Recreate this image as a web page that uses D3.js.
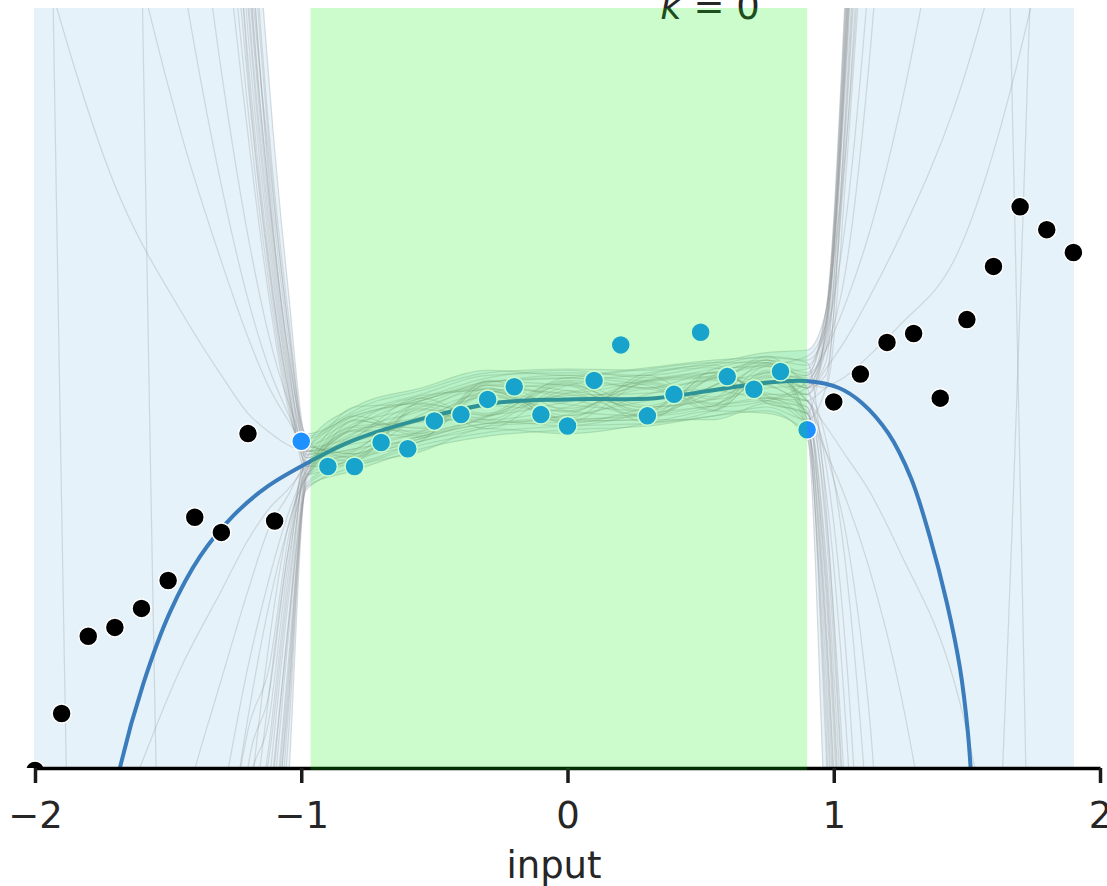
<!DOCTYPE html>
<html>
<head>
<meta charset="utf-8">
<script src="https://cdn.jsdelivr.net/npm/d3@7"></script>
<style>
  body { margin: 0; background: #fff; }
  svg { display: block; font-family: "DejaVu Sans", sans-serif; }
</style>
</head>
<body>
<div id="chart"></div>
<script>
// x positions shared by every ensemble curve
var gridX = [-2.0, -1.7, -1.45, -1.3, -1.2, -1.12, -1.05, -0.98, -0.8, -0.55, -0.3, 0, 0.3, 0.55, 0.75, 0.9, 0.97, 1.05, 1.13, 1.25, 1.45, 1.9];

// ensemble members (grey), values at gridX
var ensemble = [
  [40, 30, 20, 12, 5.0, 2.4, 0.8, -0.40, -0.22, -0.10, 0.05, 0.08, 0.00, 0.08, 0.18, -0.35, -3.6, -8, -14, -22, -35, -60],
  [38, 28, 18, 10, 4.4, 2.0, 0.6, -0.45, -0.52, -0.38, -0.28, -0.22, -0.10, -0.02, -0.08, 0.05, 0.4, 3.0, 6.5, 12, 20, 40],
  [36, 26, 16, 8, 3.8, 1.7, 0.4, -0.50, -0.30, -0.08, 0.00, -0.26, -0.25, 0.10, 0.20, -0.30, -2.6, -7, -12, -20, -32, -55],
  [34, 24, 15, 7, 3.3, 1.4, 0.2, -0.48, -0.58, -0.42, -0.30, 0.02, 0.10, -0.15, -0.10, 0.00, 0.2, 2.8, 6, 11, 19, 38],
  [32, 22, 14, 6.5, 3.0, 1.2, 0.1, -0.55, -0.33, -0.34, 0.06, -0.18, -0.22, 0.15, 0.22, -0.25, -2.0, -6, -10, -17, -28, -50],
  [30, 20, 12, 5.5, 2.6, 1.0, 0.0, -0.52, -0.48, -0.12, -0.22, 0.08, 0.02, -0.18, 0.12, 0.00, 0.1, 2.2, 5, 10, 18, 36],
  [28, 18, 10, 4.5, 2.2, 0.8, -0.1, -0.58, -0.25, -0.38, -0.02, -0.24, 0.12, 0.16, -0.12, -0.20, -1.6, -5, -9, -15, -25, -45],
  [36, 26, 16, 9, 4.0, 1.6, 0.3, -0.42, -0.55, -0.16, -0.32, -0.02, -0.18, 0.02, 0.25, 0.05, 0.0, 1.8, 4.2, 9, 16, 32],
  [-40, -30, -22, -14, -8, -5.5, -3.2, -0.75, -0.56, -0.42, 0.02, -0.04, 0.05, 0.08, -0.12, -0.20, -1.3, -4.2, -8, -14, -24, -45],
  [-38, -28, -20, -12, -7, -4.8, -2.8, -0.70, -0.30, -0.08, -0.25, 0.04, -0.22, -0.14, 0.17, 0.05, 0.5, 3.2, 7, 15, 26, 50],
  [-36, -26, -18, -10, -6, -4.2, -2.4, -0.68, -0.50, -0.34, -0.05, -0.27, 0.06, 0.12, -0.06, -0.15, -1.0, -3.5, -7, -12, -20, -40],
  [-34, -24, -16, -8, -5, -3.6, -2.0, -0.65, -0.22, -0.36, 0.05, 0.02, -0.27, -0.18, 0.14, -0.05, 0.45, 2.6, 6, 13, 22, 44],
  [-32, -22, -14, -7, -4.4, -3.1, -1.7, -0.62, -0.58, -0.14, -0.28, -0.21, 0.10, 0.18, -0.08, -0.10, -0.8, -2.8, -6, -11, -19, -38],
  [-30, -20, -12, -6, -3.2, -2.6, -1.4, -0.66, -0.40, -0.06, -0.02, -0.28, -0.16, -0.08, 0.20, 0.00, 0.3, 2.0, 5, 11, 20, 40],
  [-26, -18, -10, -4.2, -2.7, -2.2, -1.2, -0.60, -0.48, -0.40, -0.22, 0.06, 0.00, 0.12, -0.04, -0.10, -0.6, -2.2, -5, -9, -16, -32],
  [-36, -26, -18, -9, -5.5, -3.9, -2.2, -0.72, -0.36, -0.18, 0.02, -0.08, -0.22, 0.02, 0.12, 0.15, 0.6, 3.4, 7.5, 17, 28, 55],
  [3.6, 1.6, 0.6, 0.1, -0.2, -0.35, -0.45, -0.50, -0.42, -0.26, -0.14, -0.06, -0.04, 0.00, 0.05, -0.05, 0.15, 0.4, 0.7, 1.2, 2.2, 6],
  [8, 4.2, 2.0, 1.0, 0.4, 0.0, -0.25, -0.45, -0.28, -0.15, -0.01, -0.05, -0.15, -0.09, 0.08, 0.10, 0.3, 0.7, 1.2, 2.2, 4.5, 12],
  [12, 7, 3.3, 1.6, 0.7, 0.15, -0.2, -0.50, -0.44, -0.36, -0.23, 0.02, -0.16, 0.07, 0.02, -0.20, -0.5, -0.9, -1.4, -2.4, -5, -15],
  [16, 10, 5, 2.5, 1.2, 0.4, -0.1, -0.45, -0.52, -0.21, -0.05, -0.19, 0.04, -0.12, 0.06, -0.10, -0.3, -0.55, -0.8, -1.3, -2.3, -8],
  [-5, -3.5, -2.2, -1.6, -1.2, -0.95, -0.8, -0.62, -0.33, -0.25, -0.03, -0.13, -0.18, 0.10, 0.03, -0.10, 0.0, 0.1, 0.25, 0.5, 1.0, 4.5],
  [-9, -6, -3.4, -2.3, -1.6, -1.1, -0.85, -0.60, -0.49, -0.17, -0.21, -0.11, 0.00, -0.07, 0.09, -0.10, -0.5, -1.2, -2.5, -6, -8, 15],
  [-14, -9, -5, -3.3, -2.2, -1.5, -1.0, -0.65, -0.31, -0.31, -0.04, 0.03, -0.20, -0.03, 0.17, 0.10, 0.6, 2.0, 4.5, 9, 16, 32],
  [-18, -12, -6.5, -4, -2.6, -1.7, -1.1, -0.70, -0.53, -0.25, -0.25, -0.15, 0.06, 0.09, -0.10, -0.15, -1.8, -5.5, -10, -17, -28, -50],
  [12, -15, -12, -7, -3.5, -2.0, -1.1, -0.70, -0.35, -0.23, -0.07, -0.16, -0.01, -0.13, 0.13, 0.00, 0.4, 1.4, 3.2, 7, 14, 30],
  [25, 14, -9, -8, -4, -2.4, -1.3, -0.70, -0.40, -0.35, 0.00, -0.22, -0.05, 0.06, -0.05, -0.05, -0.4, -1.5, -3.5, -8, -15, -30],
  [30, 22, 14, 8, 3.6, 1.8, 0.5, -0.47, -0.38, -0.13, -0.20, 0.05, -0.14, 0.08, 0.19, -0.25, -2.2, -6.5, -11, -19, -30, -52],
  [-34, -25, -17, -9, -5.8, -4.0, -2.5, -0.69, -0.26, -0.32, -0.14, -0.18, 0.03, -0.17, 0.10, 0.08, 0.35, 2.3, 5.2, 10, 18, 36],
  [26, 18, 11, 5, 2.4, 0.9, -0.05, -0.55, -0.54, -0.10, -0.01, -0.25, -0.19, 0.13, -0.07, -0.18, -1.4, -4.6, -8.5, -15, -25, -46],
  [-28, -20, -13, -6.5, -3.7, -2.9, -1.6, -0.63, -0.34, -0.39, 0.03, -0.02, -0.23, 0.02, 0.22, 0.12, 0.55, 3.1, 7, 16, 27, 52],
  [22, 16, 9, 4, 2.0, 0.7, -0.15, -0.53, -0.30, -0.27, -0.22, -0.04, 0.05, -0.09, 0.00, 0.02, 0.3, 1.0, 2.5, 6, 14, -25],
  [37, 27, 17, 9.5, 4.2, 1.9, 0.5, -0.38, -0.20, -0.05, 0.10, 0.12, 0.10, 0.18, 0.25, 0.20, -0.9, -3.8, -7, -12, -20, -40],
  [33, 23, 14, 7.5, 3.4, 1.5, 0.25, -0.62, -0.60, -0.45, -0.35, -0.30, -0.28, -0.22, -0.15, -0.25, 0.0, 2.4, 5.5, 10, 18, 36],
  [-35, -25, -17, -9.5, -5.8, -4.0, -2.3, -0.78, -0.65, -0.48, -0.38, -0.33, -0.30, -0.22, -0.18, -0.40, -2.4, -6.5, -11, -18, -30, -52],
  [-31, -22, -14, -7.5, -4.6, -3.3, -1.9, -0.50, -0.18, -0.02, 0.12, 0.15, 0.14, 0.20, 0.28, 0.30, 0.6, 3.3, 7.2, 17, 28, 54],
  [29, 20, 12, 6, 2.8, 1.1, 0.05, -0.68, -0.55, -0.42, -0.30, -0.27, -0.25, -0.25, -0.12, -0.30, -1.9, -5.6, -10, -16, -27, -48],
  [-29, -21, -13, -6.8, -4.0, -2.8, -1.5, -0.45, -0.15, 0.00, 0.14, 0.10, 0.16, 0.22, 0.24, 0.22, 0.45, 2.8, 6.2, 13, 22, 44],
  [35, 25, 15, 8, 3.5, 1.5, 0.3, -0.36, -0.22, -0.08, 0.08, 0.14, 0.08, 0.12, 0.22, 0.18, 0.5, 2.9, 6.5, 12, 20, 40],
  [-33, -23, -15, -8, -4.8, -3.4, -1.9, -0.80, -0.62, -0.50, -0.32, -0.36, -0.28, -0.18, -0.20, -0.35, -1.5, -4.8, -9, -15, -25, -46],
  [31, 21, 13, 6.8, 3.1, 1.3, 0.15, -0.44, -0.15, -0.12, 0.05, 0.08, 0.15, 0.20, 0.20, 0.00, -1.1, -3.9, -7.5, -13, -22, -42],
  [-37, -27, -19, -11, -6.5, -4.5, -2.6, -0.77, -0.58, -0.40, -0.28, -0.25, -0.22, -0.14, -0.10, -0.20, 0.5, 2.7, 6, 11, 20, 40],
  [27, 19, 11.5, 5.8, 2.5, 0.95, 0.0, -0.60, -0.52, -0.38, -0.26, -0.30, -0.20, -0.14, -0.08, -0.28, -2.8, -7.2, -12, -20, -32, -56],
  [-27, -19, -12, -5.5, -3.0, -2.4, -1.3, -0.55, -0.25, -0.10, 0.04, 0.10, 0.06, 0.15, 0.18, 0.25, 0.5, 3.0, 6.8, 14, 24, 48]
];

// fitted curve (blue)
var fitX = [-1.696, -1.681, -1.594, -1.493, -1.380, -1.256, -1.129, -0.967, -0.8, -0.54, -0.28, 0, 0.33, 0.54, 0.74, 0.896, 1.020, 1.106, 1.204, 1.290, 1.362, 1.425, 1.474, 1.504, 1.519];
var fitY = [-3.17, -3.0, -2.34, -1.77, -1.33, -1.01, -0.78, -0.58, -0.41, -0.24, -0.12, -0.09, -0.08, -0.02, 0.04, 0.055, 0.0, -0.118, -0.355, -0.711, -1.184, -1.697, -2.21, -2.724, -3.17];

// observations outside the training range (black)
var outX = [-2.0, -1.9, -1.8, -1.7, -1.6, -1.5, -1.4, -1.3, -1.2, -1.1, 1.0, 1.1, 1.2, 1.3, 1.4, 1.5, 1.6, 1.7, 1.8, 1.9];
var outY = [-3.02, -2.57, -1.96, -1.89, -1.74, -1.52, -1.02, -1.14, -0.36, -1.05, -0.11, 0.11, 0.36, 0.43, -0.08, 0.54, 0.96, 1.43, 1.25, 1.07];

// training observations (blue)
var inX = [-1.0, -0.9, -0.8, -0.7, -0.6, -0.5, -0.4, -0.3, -0.2, -0.1, 0.0, 0.1, 0.2, 0.3, 0.4, 0.5, 0.6, 0.7, 0.8, 0.9];
var inY = [-0.42, -0.62, -0.62, -0.43, -0.48, -0.26, -0.21, -0.09, 0.01, -0.21, -0.30, 0.06, 0.34, -0.22, -0.05, 0.44, 0.09, -0.01, 0.13, -0.33];

var trainRange = [-0.965, 0.9];
var xTicks = [-2, -1, 0, 1, 2];

var W = 1107, H = 886;
var plotTop = 8, plotBottom = 768;

var svg = d3.select("#chart").append("svg")
    .attr("width", W)
    .attr("height", H);

var x = d3.scaleLinear().domain([-2, 2]).range([35, 1100]);
var y = d3.scaleLinear().domain([-3, 3]).range([plotBottom, plotTop]);

svg.append("defs").append("clipPath").attr("id", "plot")
  .append("rect")
    .attr("x", 0).attr("y", plotTop)
    .attr("width", W).attr("height", plotBottom - plotTop);

var plot = svg.append("g").attr("clip-path", "url(#plot)");

// envelope of the ensemble: union of the areas between each member and one reference member
var ref = ensemble[16];
var area = d3.area()
    .x(function(d) { return x(d.x); })
    .y0(function(d) { return y(d.r); })
    .y1(function(d) { return y(d.v); })
    .curve(d3.curveMonotoneX);

var line = d3.line()
    .x(function(d) { return x(d.x); })
    .y(function(d) { return y(d.v); })
    .curve(d3.curveMonotoneX);

var members = ensemble.map(function(c) {
  return gridX.map(function(gx, i) { return {x: gx, v: c[i], r: ref[i]}; });
});

plot.append("g").selectAll("path")
    .data(members)
    .enter().append("path")
    .attr("d", area)
    .attr("fill", "#e5f2f9")
    .attr("stroke", "#e5f2f9")
    .attr("stroke-width", 0.6);

plot.append("g").selectAll("path")
    .data(members)
    .enter().append("path")
    .attr("d", line)
    .attr("fill", "none")
    .attr("stroke", "#8f8f8f")
    .attr("stroke-opacity", 0.28)
    .attr("stroke-width", 1.2);

// fitted curve
var fitLine = d3.line()
    .x(function(d) { return x(d.x); })
    .y(function(d) { return y(d.v); })
    .curve(d3.curveCatmullRom.alpha(0.5));

plot.append("path")
    .datum(fitX.map(function(v, i) { return {x: v, v: fitY[i]}; }))
    .attr("d", fitLine)
    .attr("fill", "none")
    .attr("stroke", "#3a7cbc")
    .attr("stroke-width", 4);

plot.append("g").selectAll("circle")
    .data(outX.map(function(v, i) { return [v, outY[i]]; }))
    .enter().append("circle")
    .attr("cx", function(d) { return x(d[0]); })
    .attr("cy", function(d) { return y(d[1]); })
    .attr("r", 9.5)
    .attr("fill", "#000")
    .attr("stroke", "#fff")
    .attr("stroke-width", 1.5);

plot.append("g").selectAll("circle")
    .data(inX.map(function(v, i) { return [v, inY[i]]; }))
    .enter().append("circle")
    .attr("cx", function(d) { return x(d[0]); })
    .attr("cy", function(d) { return y(d[1]); })
    .attr("r", 9.5)
    .attr("fill", "#1e90ff")
    .attr("stroke", "#fff")
    .attr("stroke-width", 1.5);

// x axis, spine trimmed to the ticks
var axis = svg.append("g")
    .attr("transform", "translate(0," + plotBottom + ")")
    .call(d3.axisBottom(x).tickValues(xTicks).tickFormat(d3.format("d"))
      .tickSize(15).tickSizeOuter(0).tickPadding(19));

axis.select(".domain").attr("stroke", "#000").attr("stroke-width", 3.5);
axis.selectAll(".tick line").attr("stroke", "#1a1a1a").attr("stroke-width", 3.5);
axis.selectAll(".tick text")
    .attr("fill", "#262626")
    .style("font-size", "37px")
    .style("font-family", "'DejaVu Sans', sans-serif");

svg.append("text")
    .attr("x", 554)
    .attr("y", 878)
    .attr("text-anchor", "middle")
    .attr("fill", "#262626")
    .style("font-size", "37px")
    .text("input");

var title = svg.append("text")
    .attr("x", 710)
    .attr("y", 19)
    .attr("text-anchor", "middle")
    .attr("fill", "#262626")
    .style("font-size", "37px");
title.append("tspan").style("font-style", "italic").text("k");
title.append("tspan").text(" = 0");

// training range highlighted on top
svg.append("rect")
    .attr("x", x(trainRange[0]))
    .attr("y", plotTop)
    .attr("width", x(trainRange[1]) - x(trainRange[0]))
    .attr("height", plotBottom - plotTop + 2)
    .attr("fill", "#00f000")
    .attr("fill-opacity", 0.2);
</script>
</body>
</html>
